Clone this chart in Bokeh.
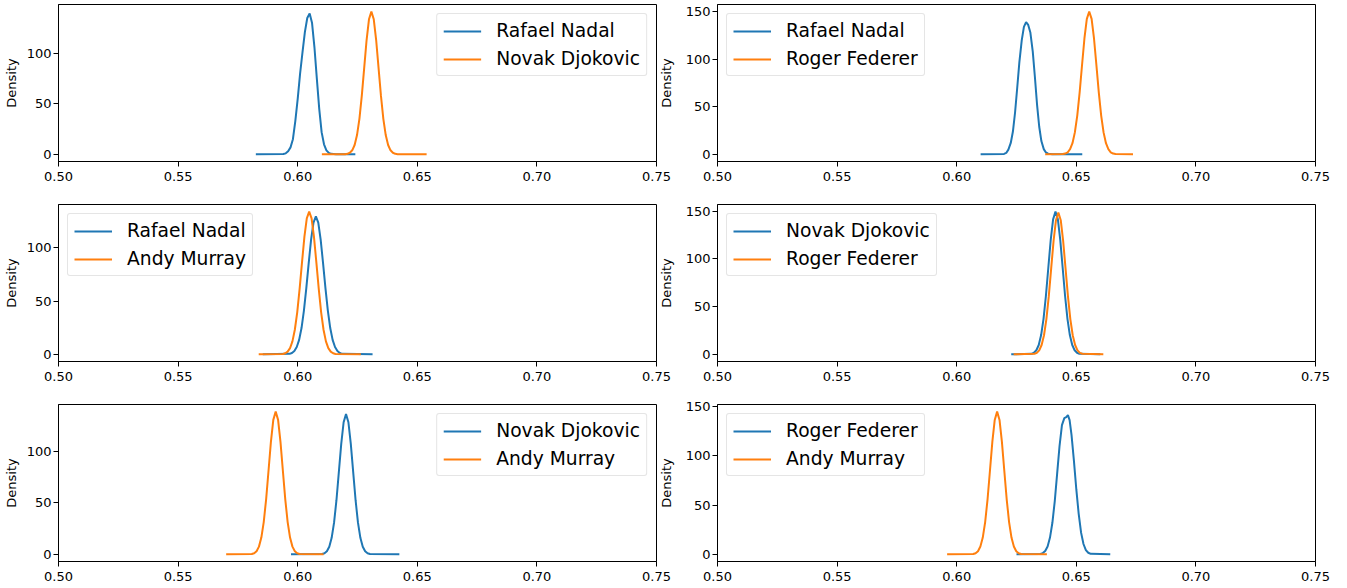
from bokeh.plotting import figure
from bokeh.models import Range1d, FixedTicker, PrintfTickFormatter, Legend, LegendItem
from bokeh.layouts import column, row
from bokeh.embed import file_html
from bokeh.resources import INLINE

BLUE = "#1f77b4"
ORANGE = "#ff7f0e"
FONT = "DejaVu Sans"

x_ticks = [0.50, 0.55, 0.60, 0.65, 0.70, 0.75]
y_ticks = [0, 50, 100, 150]

# ---- panel 1: Rafael Nadal vs Novak Djokovic ----
p1_blue_x = [0.5825, 0.5940, 0.5950, 0.5960, 0.5970, 0.5980, 0.5990, 0.6000, 0.6010, 0.6020, 0.6030, 0.6040,
             0.6050, 0.6060, 0.6070, 0.6080, 0.6090, 0.6100, 0.6110, 0.6120, 0.6130, 0.6140, 0.6160, 0.6241]
p1_blue_y = [0.0, 0.3, 1.0, 3.0, 6.9, 15.0, 33.0, 55.0, 80.0, 101.0, 121.0, 135.0,
             139.5, 130.0, 106.0, 75.0, 45.0, 22.0, 10.0, 4.0, 1.5, 0.5, 0.1, 0.0]
p1_orange_x = [0.6101, 0.6188, 0.6198, 0.6208, 0.6218, 0.6228, 0.6238, 0.6248, 0.6258, 0.6268, 0.6278, 0.6288,
               0.6298, 0.6308, 0.6318, 0.6328, 0.6338, 0.6348, 0.6358, 0.6368, 0.6378, 0.6388, 0.6398, 0.6408,
               0.6418, 0.6428, 0.6539]
p1_orange_y = [0.0, 0.05, 0.15, 0.5, 1.6, 4.0, 9.3, 19.1, 35.2, 58.1, 85.7, 113.2,
               133.7, 141.3, 133.7, 113.2, 85.7, 58.1, 35.2, 19.1, 9.3, 4.0, 1.6, 0.5,
               0.15, 0.05, 0.0]

# ---- panel 2: Rafael Nadal vs Roger Federer ----
p2_blue_x = [0.6100, 0.6198, 0.6207, 0.6216, 0.6226, 0.6235, 0.6244, 0.6253, 0.6262, 0.6272, 0.6281, 0.6290,
             0.6299, 0.6308, 0.6318, 0.6327, 0.6336, 0.6345, 0.6354, 0.6364, 0.6373, 0.6382, 0.6400, 0.6525]
p2_blue_y = [0.0, 0.5, 1.5, 5.0, 12.0, 24.0, 44.0, 70.0, 97.0, 120.0, 134.0, 139.0,
             136.0, 128.0, 108.0, 81.0, 52.0, 29.0, 14.0, 5.5, 2.0, 0.7, 0.1, 0.0]
p2_orange_x = [0.6370, 0.6444, 0.6454, 0.6464, 0.6474, 0.6484, 0.6494, 0.6504, 0.6514, 0.6524, 0.6534, 0.6544,
               0.6554, 0.6564, 0.6574, 0.6584, 0.6594, 0.6604, 0.6614, 0.6624, 0.6634, 0.6644, 0.6654, 0.6664,
               0.6737]
p2_orange_y = [0.0, 0.3, 0.8, 2.2, 5.4, 11.7, 23.1, 40.8, 65.2, 93.9, 121.8, 142.4,
               150.0, 142.4, 121.8, 93.9, 65.2, 40.8, 23.1, 11.7, 5.4, 2.2, 0.8, 0.3,
               0.0]

# ---- panel 3: Rafael Nadal vs Andy Murray ----
p3_blue_x = [0.5854, 0.5966, 0.5976, 0.5986, 0.5996, 0.6006, 0.6016, 0.6026, 0.6036, 0.6046, 0.6056, 0.6066,
             0.6076, 0.6086, 0.6096, 0.6106, 0.6116, 0.6126, 0.6136, 0.6146, 0.6156, 0.6166, 0.6176, 0.6186,
             0.6313]
p3_blue_y = [0.0, 0.5, 1.3, 3.1, 6.9, 13.6, 24.7, 41.1, 62.2, 85.7, 107.7, 123.7,
             129.5, 123.7, 107.7, 85.7, 62.2, 41.1, 24.7, 13.6, 6.9, 3.1, 1.3, 0.5,
             0.0]
p3_orange_x = [0.5837, 0.5938, 0.5948, 0.5958, 0.5968, 0.5978, 0.5988, 0.5998, 0.6008, 0.6018, 0.6028, 0.6038,
               0.6048, 0.6058, 0.6068, 0.6078, 0.6088, 0.6098, 0.6108, 0.6118, 0.6128, 0.6138, 0.6148, 0.6158,
               0.6264]
p3_orange_y = [0.0, 0.36, 1.0, 2.6, 5.9, 12.2, 23.1, 39.5, 61.4, 86.3, 110.3, 127.6,
               134.0, 127.6, 110.3, 86.3, 61.4, 39.5, 23.1, 12.2, 5.9, 2.6, 1.0, 0.36,
               0.0]

# ---- panel 4: Novak Djokovic vs Roger Federer ----
p4_blue_x = [0.6228, 0.6313, 0.6323, 0.6333, 0.6343, 0.6353, 0.6363, 0.6373, 0.6383, 0.6393, 0.6403, 0.6413,
             0.6423, 0.6433, 0.6443, 0.6453, 0.6463, 0.6473, 0.6483, 0.6493, 0.6503, 0.6513, 0.6600]
p4_blue_y = [0.0, 0.6, 1.7, 4.3, 9.8, 20.2, 37.2, 61.4, 90.7, 119.7, 141.4, 149.5,
             141.4, 119.7, 90.7, 61.4, 37.2, 20.2, 9.8, 4.3, 1.7, 0.6, 0.0]
p4_orange_x = [0.6238, 0.6325, 0.6335, 0.6345, 0.6355, 0.6365, 0.6375, 0.6385, 0.6395, 0.6405, 0.6415, 0.6425,
               0.6435, 0.6445, 0.6455, 0.6465, 0.6475, 0.6485, 0.6495, 0.6505, 0.6515, 0.6525, 0.6613]
p4_orange_y = [0.0, 0.6, 1.6, 4.2, 9.8, 20.0, 37.0, 61.0, 90.1, 118.9, 140.5, 148.5,
               140.5, 118.9, 90.1, 61.0, 37.0, 20.0, 9.8, 4.2, 1.6, 0.6, 0.0]

# ---- panel 5: Novak Djokovic vs Andy Murray ----
p5_blue_x = [0.5972, 0.6102, 0.6112, 0.6122, 0.6132, 0.6142, 0.6152, 0.6162, 0.6172, 0.6182, 0.6192, 0.6202,
             0.6212, 0.6222, 0.6232, 0.6242, 0.6252, 0.6262, 0.6272, 0.6282, 0.6292, 0.6302, 0.6425]
p5_blue_y = [0.0, 0.35, 1.1, 3.0, 7.4, 16.0, 30.7, 52.5, 79.7, 107.2, 128.1, 136.0,
             128.1, 107.2, 79.7, 52.5, 30.7, 16.0, 7.4, 3.0, 1.1, 0.35, 0.0]
p5_orange_x = [0.5701, 0.5808, 0.5818, 0.5828, 0.5838, 0.5848, 0.5858, 0.5868, 0.5878, 0.5888, 0.5898, 0.5908,
               0.5918, 0.5928, 0.5938, 0.5948, 0.5958, 0.5968, 0.5978, 0.5988, 0.5998, 0.6008, 0.6108]
p5_orange_y = [0.0, 0.36, 1.1, 3.1, 7.5, 16.3, 31.3, 53.4, 81.1, 109.1, 130.4, 138.4,
               130.4, 109.1, 81.1, 53.4, 31.3, 16.3, 7.5, 3.1, 1.1, 0.36, 0.0]

# ---- panel 6: Roger Federer vs Andy Murray ----
p6_blue_x = [0.6250, 0.6350, 0.6360, 0.6370, 0.6380, 0.6390, 0.6400, 0.6410, 0.6420, 0.6430, 0.6440, 0.6450,
             0.6458, 0.6465, 0.6472, 0.6480, 0.6490, 0.6500, 0.6510, 0.6520, 0.6530, 0.6540, 0.6550, 0.6560,
             0.6642]
p6_blue_y = [0.0, 0.4, 1.3, 3.4, 8.0, 17.0, 32.0, 54.0, 82.0, 110.0, 131.0, 138.0,
             139.0, 141.0, 136.0, 121.0, 95.0, 66.0, 41.0, 22.0, 10.5, 4.3, 1.6, 0.5,
             0.0]
p6_orange_x = [0.5960, 0.6069, 0.6079, 0.6089, 0.6099, 0.6109, 0.6119, 0.6129, 0.6139, 0.6149, 0.6159, 0.6169,
               0.6179, 0.6189, 0.6199, 0.6209, 0.6219, 0.6229, 0.6239, 0.6249, 0.6259, 0.6269, 0.6377]
p6_orange_y = [0.0, 0.38, 1.2, 3.2, 7.9, 17.0, 32.7, 55.8, 84.7, 113.9, 136.2, 144.6,
               136.2, 113.9, 84.7, 55.8, 32.7, 17.0, 7.9, 3.2, 1.2, 0.38, 0.0]

panels = [
    ("Rafael Nadal", p1_blue_x, p1_blue_y, "Novak Djokovic", p1_orange_x, p1_orange_y, "top_right"),
    ("Rafael Nadal", p2_blue_x, p2_blue_y, "Roger Federer", p2_orange_x, p2_orange_y, "top_left"),
    ("Rafael Nadal", p3_blue_x, p3_blue_y, "Andy Murray", p3_orange_x, p3_orange_y, "top_left"),
    ("Novak Djokovic", p4_blue_x, p4_blue_y, "Roger Federer", p4_orange_x, p4_orange_y, "top_left"),
    ("Novak Djokovic", p5_blue_x, p5_blue_y, "Andy Murray", p5_orange_x, p5_orange_y, "top_right"),
    ("Roger Federer", p6_blue_x, p6_blue_y, "Andy Murray", p6_orange_x, p6_orange_y, "top_left"),
]

FRAME_W = 603
FRAME_H = 157


def build(panel, col, rownum):
    n1, bx, by, n2, ox, oy, loc = panel
    M = max(max(by), max(oy))
    left = 53 if col == 0 else 57
    right = 16 if col == 0 else 20
    top = 4 if rownum == 0 else 7
    bottom = 36 if rownum < 2 else 26
    p = figure(width=left + FRAME_W + right, height=top + FRAME_H + bottom,
               x_range=Range1d(0.5, 0.75), y_range=Range1d(-0.05 * M, 1.05 * M),
               output_backend="svg", toolbar_location=None,
               min_border_left=left, min_border_right=right,
               min_border_top=top, min_border_bottom=bottom)
    p.border_fill_color = None
    p.background_fill_color = "white"
    p.outline_line_color = "black"
    p.outline_line_width = 1
    p.grid.visible = False

    r1 = p.line(bx, by, line_color=BLUE, line_width=2)
    r2 = p.line(ox, oy, line_color=ORANGE, line_width=2)

    p.xaxis.ticker = FixedTicker(ticks=x_ticks)
    p.xaxis.formatter = PrintfTickFormatter(format="%.2f")
    p.yaxis.ticker = FixedTicker(ticks=y_ticks)
    for ax in (p.xaxis, p.yaxis):
        ax.major_label_text_font = FONT
        ax.major_label_text_font_size = "13px"
        ax.major_label_text_color = "black"
        ax.major_tick_out = 5
        ax.major_tick_in = 0
        ax.major_tick_line_color = "black"
        ax.minor_tick_line_color = None
        ax.axis_line_color = "black"
        ax.major_label_standoff = 2
    p.xaxis.major_label_standoff = 5
    p.yaxis.axis_label = "Density"
    p.yaxis.axis_label_text_font = FONT
    p.yaxis.axis_label_text_font_size = "13px"
    p.yaxis.axis_label_text_font_style = "normal"
    p.yaxis.axis_label_text_color = "black"
    p.yaxis.axis_label_standoff = 5 if col == 0 else 9

    legend = Legend(items=[LegendItem(label=n1, renderers=[r1]),
                           LegendItem(label=n2, renderers=[r2])],
                    location=loc)
    legend.label_text_font = FONT
    legend.label_text_font_size = "18.7px"
    legend.label_text_color = "black"
    legend.glyph_width = 38
    legend.glyph_height = 18
    legend.label_height = 18
    legend.label_standoff = 15
    legend.padding = 6
    legend.spacing = 7
    legend.margin = 9
    legend.border_line_color = "#cccccc"
    legend.border_line_width = 1
    legend.background_fill_color = "white"
    legend.background_fill_alpha = 0.8
    try:
        legend.border_radius = 3
    except Exception:
        pass
    p.add_layout(legend)

    if col == 1:
        p.margin = (0, 0, 0, -17)
    return p


figs = []
for i, panel in enumerate(panels):
    figs.append(build(panel, i % 2, i // 2))

layout = column(row(figs[0], figs[1]), row(figs[2], figs[3]), row(figs[4], figs[5]))

open("out.html", "w").write(file_html(layout, INLINE))
